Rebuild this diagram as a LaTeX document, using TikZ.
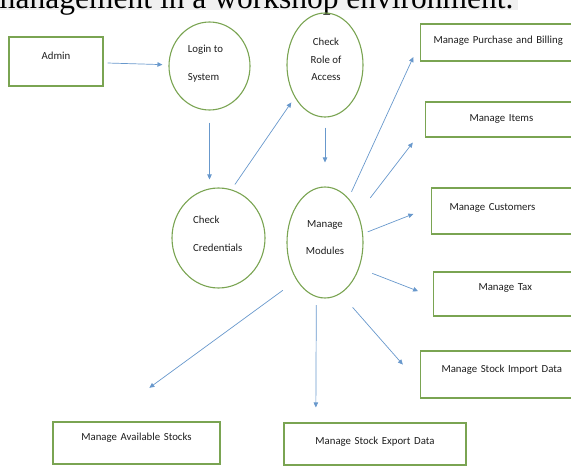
\documentclass[tikz,border=0pt]{standalone}
\usepackage{fontspec}
\setmainfont{Carlito}
\newfontfamily\titlefont{Liberation Serif}
\usetikzlibrary{arrows.meta,shapes.geometric,calc}
\definecolor{boxgreen}{RGB}{122,164,82}
\definecolor{flowblue}{RGB}{104,152,204}
\definecolor{txtgray}{RGB}{30,30,30}
\definecolor{bandgray}{RGB}{240,240,240}
\tikzset{
  procbox/.style={draw=boxgreen, line width=1.1pt, inner sep=0pt, text=txtgray,
    font=\fontsize{10.8pt}{13pt}\selectfont},
  procell/.style={ellipse, draw=boxgreen, line width=1.1pt, inner sep=0pt},
  elltext/.style={text=txtgray, inner sep=0pt},
  flow/.style={-{Triangle[length=5pt,width=4.5pt]}, line width=0.7pt, flowblue},
}

\begin{document}
\begin{tikzpicture}[x=1pt,y=-1pt]
    \useasboundingbox (0,0) rectangle (571,466);
    \clip (0,0) rectangle (571,466);
    % caption line, cut off at the top
    \fill[bandgray] (0,0) rectangle (518,10);
    \node[anchor=base west, inner sep=0pt,
      font=\titlefont\fontsize{31.5pt}{36pt}\selectfont] (title) at (-9,8.5)
      {management in a workshop environment.};

    % processes
    \node[procell, minimum width=81pt, minimum height=88pt,
      label={[elltext, align=left, font=\fontsize{10.8pt}{28pt}\selectfont,
        xshift=-4pt, yshift=2pt]center:Login to\\System}] (login) at (209.5,66) {};
    \node[procell, minimum width=76pt, minimum height=104pt,
      label={[elltext, align=center, font=\fontsize{10.8pt}{17.5pt}\selectfont,
        xshift=1pt, yshift=5.5pt]center:Check\\Role of\\Access}] (role) at (325,65) {};
    \node[procell, minimum width=93pt, minimum height=100pt,
      label={[elltext, align=left, font=\fontsize{10.8pt}{28pt}\selectfont,
        xshift=-0.7pt, yshift=4pt]center:Check\\Credentials}] (cred) at (218.5,238) {};
    \node[procell, minimum width=76pt, minimum height=111pt,
      label={[elltext, align=center, font=\fontsize{10.8pt}{27pt}\selectfont,
        yshift=5pt]center:Manage\\Modules}] (mods) at (325,242.5) {};

    % entities and modules
    \node[procbox, anchor=base, text width=94pt, align=center,
      text height=22.5pt, text depth=26.5pt] (admin) at (56,59.5) {Admin};
    \node[procbox, anchor=base west, text width=154pt, inner xsep=13pt, align=left,
      text height=19.5pt, text depth=17.5pt] (purch) at (420,43.5)
      {Manage Purchase and Billing};
    \node[procbox, anchor=base west, text width=87pt, inner xsep=44pt, align=left,
      text height=19.5pt, text depth=15.5pt] (items) at (425,121.5) {Manage Items};
    \node[procbox, anchor=base west, text width=133pt, inner xsep=18pt, align=left,
      text height=22.5pt, text depth=23.5pt] (cust) at (431,210.5) {Manage Customers};
    \node[procbox, anchor=base west, text width=77pt, inner xsep=45pt, align=left,
      text height=18.5pt, text depth=25.5pt] (tax) at (433,290.5) {Manage Tax};
    \node[procbox, anchor=base west, text width=138pt, inner xsep=21pt, align=left,
      text height=21.5pt, text depth=25.5pt] (import) at (420,372.5)
      {Manage Stock Import Data};
    \node[procbox, anchor=base, text width=167pt, align=center,
      text height=18.5pt, text depth=23.5pt] (avail) at (136.5,440.5)
      {Manage Available Stocks};
    \node[procbox, anchor=base, text width=182pt, align=center,
      text height=21.5pt, text depth=20.5pt] (export) at (375,444.5)
      {Manage Stock Export Data};

    % flows
    \draw[flow, shorten <=4pt, shorten >=6pt] (admin) -- (login);
    \draw[flow, shorten <=12pt, shorten >=8pt] (login.south) -- (login.south |- cred.north);
    \draw[flow, shorten <=6pt, shorten >=6pt] (cred.75) -- (role.227);
    \draw[flow, shorten <=10pt, shorten >=24pt] (role.south) -- (mods.north);
    \draw[flow, shorten <=7pt, shorten >=16pt] (mods.62) -- (purch.west);
    \draw[flow, shorten <=20pt, shorten >=20pt] (mods.41)
      -- ($(items.west)!.4!(items.south west)$);
    \draw[flow, shorten <=5pt, shorten >=19pt] (mods.13)
      -- ($(cust.west)!.17!(cust.north west)$);
    \draw[flow, shorten <=14pt, shorten >=16pt] (mods.323)
      -- ($(tax.west)!.13!(tax.south west)$);
    \draw[flow, shorten <=18pt, shorten >=26pt] (mods.287)
      -- ($(import.west)!.4!(import.south west)$);
    \draw[flow, shorten <=8pt, shorten >=15pt] (mods.261) -- (export.160);
    \draw[flow, shorten <=17pt, shorten >=57pt] (mods.233) -- (avail.147);
\end{tikzpicture}
\end{document}
